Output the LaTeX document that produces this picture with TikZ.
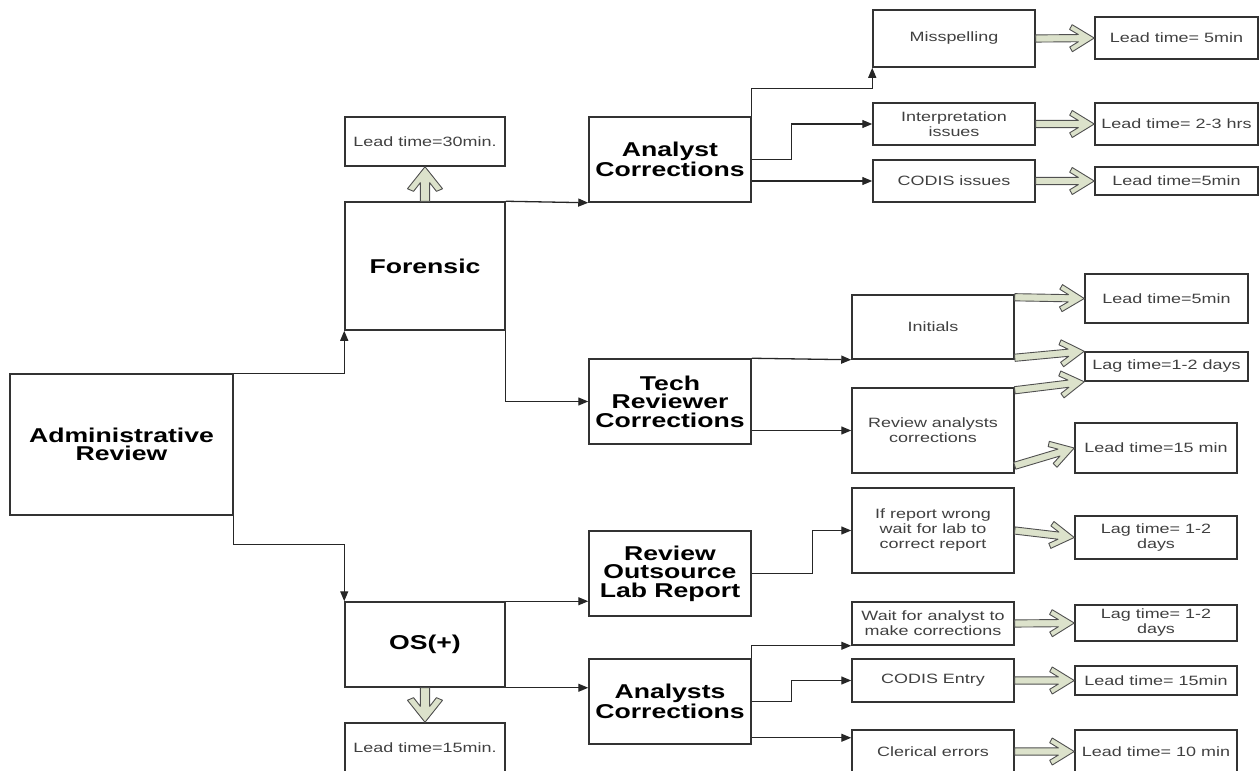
\documentclass[tikz,border=0pt]{standalone}
\usepackage{fontspec}
\setmainfont{Liberation Sans}[FakeStretch=1.33]
\usetikzlibrary{arrows.meta,calc}

\definecolor{boxline}{HTML}{333333}
\definecolor{itemtext}{HTML}{404040}
\definecolor{fatfill}{HTML}{DCE2CB}
\definecolor{fatline}{HTML}{505050}

\tikzset{
  stage/.style={draw=boxline, line width=1.5pt, inner sep=0pt, align=center,
    font=\fontsize{20}{18.5}\selectfont\bfseries},
  item/.style={draw=boxline, line width=1.5pt, inner sep=0pt, align=center,
    text=itemtext, font=\fontsize{13.5}{15}\selectfont},
  link/.style={line width=1.3pt, draw=black!85},
  fat/.style={draw=fatline, fill=fatfill, line width=0.9pt, line join=round}
}

% hollow block arrow from #2 to #3, #1 widens it
\newcommand{\fatarrow}[3][1]{%
  \path #2 coordinate (fa1) #3 coordinate (fa2);
  \path let \p1=($(fa2)-(fa1)$) in
    \pgfextra{\pgfmathsetmacro\fal{veclen(\x1,\y1)}\pgfmathsetmacro\faa{atan2(\y1,\x1)}%
      \xdef\falen{\fal}\xdef\faang{\faa}};
  \begin{scope}[shift={(fa1)}, rotate=\faang, x=1pt, y=#1 pt]
    \draw[fat] (0,3.6) -- (\falen-15.9,3.6) -- (\falen-24.6,8.8) -- (\falen-22,13.5)
      -- (\falen,0) -- (\falen-22,-13.5) -- (\falen-24.6,-8.8) -- (\falen-15.9,-3.6)
      -- (0,-3.6) -- cycle;
  \end{scope}}

\begin{document}
\begin{tikzpicture}[x=1pt, y=-1pt, >={Triangle[length=10pt,width=8pt]}]
  \useasboundingbox (0,0) rectangle (1259,771);

  % main stages
  \node[stage, minimum width=223pt, minimum height=141pt] (admin) at (121.5,444.5) {Administrative\\Review};
  \node[stage, minimum width=160pt, minimum height=128pt] (foren) at (425,266) {Forensic};
  \node[stage, minimum width=160pt, minimum height=85pt] (os) at (425,644.5) {OS(+)};
  \node[stage, minimum width=162pt, minimum height=85pt] (anc) at (670,159.5) {Analyst\\Corrections};
  \node[stage, minimum width=162pt, minimum height=85pt] (tech) at (670,401.5) {Tech\\Reviewer\\Corrections};
  \node[stage, minimum width=162pt, minimum height=85pt] (rol) at (670,573.5) {Review\\Outsource\\Lab Report};
  \node[stage, minimum width=162pt, minimum height=85pt] (ancs) at (670,701.5) {Analysts\\Corrections};

  % tasks and times
  \foreach \n/\x/\y/\w/\h/\txt in
  {
    lead30/425/141.5/160/49/Lead time=30min.,
    lead15/425/748/160/50/Lead time=15min.,
    miss/954/38.5/162/57/Misspelling,
    leadA/1176.5/38/163/42/Lead time= 5min,
    interp/954/124/162/42/{Interpretation\\issues},
    leadB/1176.5/124/163/42/Lead time= 2-3 hrs,
    codis/954/181/162/42/CODIS issues,
    leadC/1176.5/181/163/28/Lead time=5min,
    init/933/327/162/64/Initials,
    leadD/1166.5/298.5/163/49/Lead time=5min,
    lagA/1166.5/366.5/163/29/Lag time=1-2 days,
    rac/933/430.5/162/85/{Review analysts\\corrections},
    leadE/1156/448/162/50/Lead time=15 min,
    ifr/933/530.5/162/85/{If report wrong\\wait for lab to\\correct report},
    lagB/1156/537.5/162/43/{Lag time= 1-2\\days},
    wait/933/623.5/162/43/{Wait for analyst to\\make corrections},
    lagC/1156/623/162/36/{Lag time= 1-2\\days},
    cent/933/680.5/162/43/CODIS Entry,
    leadF/1156/680.5/162/29/Lead time= 15min,
    cler/933/751.5/162/43/Clerical errors,
    leadG/1156/751.5/162/43/Lead time= 10 min%
  }
  {
    \node[item, minimum width=\w pt, minimum height=\h pt] (\n) at (\x,\y) {\txt};
  }

  % flow lines
  \draw[link,->] (admin.north east) -| (foren.south west);
  \draw[link,->] (admin.south east) -- ++(0,29) -| (os.north west);
  \draw[link,->] (foren.north east) -- (anc.south west);
  \draw[link,->] (foren.south east) |- (tech.west);
  \draw[link,->] (os.north east) -- (os.north east -| rol.west);
  \draw[link,->] (os.south east) -- (os.south east -| ancs.west);
  \draw[link,->] (anc.north east) -- ++(0,-28) -| (miss.south west);
  \draw[link,->] (anc.east) -- ++(40,0) |- (interp.west);
  \draw[link,->] (anc.east |- codis.west) -- (codis.west);
  \draw[link,->] (tech.north east) -- (init.south west);
  \draw[link,->] (tech.east |- rac.west) -- (rac.west);
  \draw[link,->] (rol.east) -- ++(61,0) |- (ifr.west);
  \draw[link,->] (ancs.north east) |- (wait.south west);
  \draw[link,->] (ancs.east) -- ++(40,0) |- (cent.west);
  \draw[link,->] ([yshift=7pt]ancs.south east) -- ([yshift=7pt]ancs.south east -| cler.west);

  % time arrows
  \foreach \a/\b/\s in
  {
    {(foren.north)}/{(lead30.south)}/1.3,
    {(os.south)}/{(lead15.north)}/1.3,
    {(miss.east)}/{(leadA.west)}/1,
    {(interp.east)}/{(leadB.west)}/1,
    {(codis.east)}/{(leadC.west)}/1,
    {([yshift=-3pt]init.north east)}/{(leadD.west)}/1,
    {([yshift=2pt]init.south east)}/{(lagA.north west)}/1,
    {([yshift=-3pt]rac.north east)}/{(lagA.south west)}/1,
    {([yshift=8pt]rac.south east)}/{(leadE.west)}/1,
    {(ifr.east)}/{(lagB.west)}/1,
    {(wait.east)}/{(lagC.west)}/1,
    {(cent.east)}/{(leadF.west)}/1,
    {(cler.east)}/{(leadG.west)}/1%
  }
  {
    \fatarrow[\s]{\a}{\b}
  }
\end{tikzpicture}
\end{document}
